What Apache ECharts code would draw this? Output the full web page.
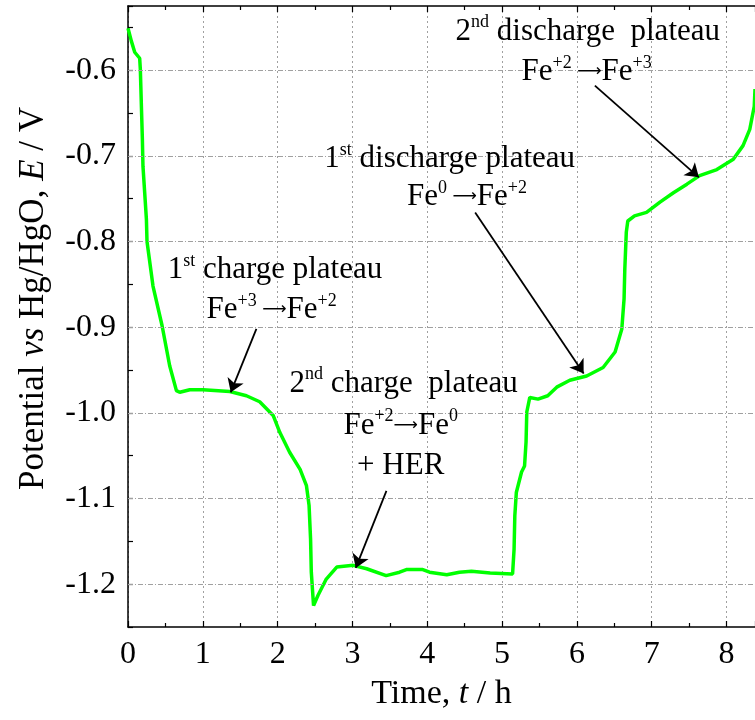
<!DOCTYPE html>
<html>
<head>
<meta charset="utf-8">
<title>Fe electrode charge / discharge</title>
<script src="https://cdn.jsdelivr.net/npm/echarts@6.0.0/dist/echarts.min.js"></script>
<style>
  html, body { margin: 0; padding: 0; background: #fff; }
  #main { width: 755px; height: 720px; }
</style>
</head>
<body>
<div id="main"></div>
<script>
// time (h) and potential (V vs Hg/HgO)
const timeH = [0, 0.045, 0.09, 0.156, 0.165, 0.179, 0.192, 0.2, 0.223, 0.246,
  0.254, 0.334, 0.455, 0.557, 0.647, 0.691, 0.825, 1.003, 1.36, 1.583,
  1.76, 1.94, 2.03, 2.16, 2.30, 2.385, 2.42, 2.44, 2.45, 2.48,
  2.54, 2.65, 2.79, 3.01, 3.19, 3.45, 3.63, 3.72, 3.94, 4.03,
  4.26, 4.43, 4.59, 4.84, 5.14, 5.16, 5.17, 5.19, 5.26, 5.30,
  5.32, 5.33, 5.37, 5.48, 5.61, 5.73, 5.905, 6.13, 6.35, 6.51,
  6.60, 6.63, 6.64, 6.66, 6.68, 6.77, 6.93, 7.11, 7.29, 7.47,
  7.64, 7.87, 8.09, 8.22, 8.31, 8.37, 8.38];
const potentialV = [-0.551, -0.566, -0.579, -0.586, -0.599, -0.642, -0.680, -0.712, -0.743, -0.774,
  -0.800, -0.852, -0.898, -0.945, -0.974, -0.976, -0.973, -0.973, -0.975, -0.980,
  -0.987, -1.003, -1.023, -1.046, -1.066, -1.085, -1.108, -1.147, -1.186, -1.225,
  -1.213, -1.194, -1.180, -1.178, -1.182, -1.190, -1.186, -1.183, -1.183, -1.186,
  -1.189, -1.186, -1.185, -1.187, -1.188, -1.159, -1.120, -1.093, -1.069, -1.062,
  -1.034, -0.999, -0.982, -0.984, -0.980, -0.970, -0.962, -0.957, -0.947, -0.929,
  -0.902, -0.867, -0.832, -0.789, -0.776, -0.770, -0.766, -0.754, -0.743, -0.733,
  -0.723, -0.716, -0.704, -0.688, -0.669, -0.642, -0.622];

// major y ticks (labelled, with grid lines)
const yMajorTicks = [-1.2, -1.1, -1.0, -0.9, -0.8, -0.7, -0.6];

// annotation texts, anchored in data units [t, E]
const noteTexts = [
  '{n|1}{s|st}{n| charge plateau}',
  '{n|Fe}{s|+3}{a| ⟶}{n|Fe}{s|+2}',
  '{n|2}{s|nd}{n| charge  plateau}',
  '{n|Fe}{s|+2}{a|⟶}{n|Fe}{s|0}',
  '{n|+ HER}',
  '{n|1}{s|st}{n| discharge plateau}',
  '{n|Fe}{s|0}{a| ⟶}{n|Fe}{s|+2}',
  '{n|2}{s|nd}{n| discharge  plateau}',
  '{n|Fe}{s|+2}{a| ⟶}{n|Fe}{s|+3}'
];
const noteAt = [[1.964, -0.833], [1.92, -0.880], [3.685, -0.966], [3.645, -1.015], [3.645, -1.062],
  [4.30, -0.704], [4.53, -0.748], [6.145, -0.555], [6.13, -0.602]];

// arrows: from [t, E] to [t, E]
const arrowFrom = [[1.716, -0.902], [3.454, -1.091], [4.64, -0.766], [6.24, -0.618]];
const arrowTo = [[1.373, -0.976], [3.044, -1.181], [6.09, -0.954], [7.63, -0.725]];

const FONT = '"Liberation Serif", "Times New Roman", serif';
const richStyle = {
  n: { fontFamily: FONT, fontSize: 31, lineHeight: 36, color: '#000' },
  s: { fontFamily: FONT, fontSize: 18, lineHeight: 20, verticalAlign: 'top', color: '#000' },
  a: { fontFamily: '"DejaVu Sans", sans-serif', fontSize: 17, lineHeight: 36, color: '#000' }
};

const chart = echarts.init(document.getElementById('main'));

const gridLine = { color: '#a0a0a0', width: 1 };

const option = {
  animation: false,
  backgroundColor: '#fff',
  grid: { left: 128, right: 0, top: 6, bottom: 93, containLabel: false, outerBoundsMode: 'none' },
  xAxis: [
    {
      type: 'value', position: 'bottom',
      min: 0, max: 8.38, interval: 1,
      axisLine: { show: true, onZero: false, lineStyle: { color: '#000', width: 1.5 } },
      axisTick: { show: true, inside: true, length: 6, lineStyle: { color: '#000', width: 1.2 } },
      minorTick: { show: true, splitNumber: 2, length: 4, lineStyle: { color: '#000', width: 1.2 } },
      axisLabel: {
        margin: 12, color: '#000', fontFamily: FONT, fontSize: 32, showMaxLabel: false,
        formatter: v => Number.isInteger(v) ? String(v) : ''
      },
      splitLine: { show: true, lineStyle: Object.assign({ type: [2, 3] }, gridLine) },
      name: 'Time, {i|t} / h',
      nameLocation: 'middle', nameGap: 50,
      nameTextStyle: {
        fontFamily: FONT, fontSize: 34, color: '#000',
        rich: { i: { fontFamily: FONT, fontSize: 34, fontStyle: 'italic', color: '#000' } }
      }
    },
    {
      type: 'value', position: 'top',
      min: 0, max: 8.38, interval: 1,
      axisLine: { show: true, onZero: false, lineStyle: { color: '#000', width: 1.5 } },
      axisTick: { show: true, inside: true, length: 6, lineStyle: { color: '#000', width: 1.2 } },
      minorTick: { show: true, splitNumber: 2, length: 4, lineStyle: { color: '#000', width: 1.2 } },
      axisLabel: { show: false },
      splitLine: { show: false }
    }
  ],
  yAxis: {
    type: 'value',
    min: -1.25, max: -0.525, interval: 0.05,
    axisLine: { show: true, onZero: false, lineStyle: { color: '#000', width: 1.5 } },
    axisTick: { show: true, inside: true, length: 5, lineStyle: { color: '#000', width: 1.2 } },
    axisLabel: {
      margin: 12, color: '#000', fontFamily: FONT, fontSize: 32,
      formatter: v => Math.abs(Math.round(v * 10) - v * 10) < 1e-6 ? v.toFixed(1) : ''
    },
    splitLine: { show: false },
    name: 'Potential {i|vs} Hg/HgO, {i|E} / V',
    nameLocation: 'middle', nameGap: 77, nameRotate: 90,
    nameTextStyle: {
      fontFamily: FONT, fontSize: 35, color: '#000', padding: [0, 0, 0, 36],
      rich: { i: { fontFamily: FONT, fontSize: 35, fontStyle: 'italic', color: '#000' } }
    }
  },
  series: [
    {
      // horizontal dash-dot grid lines at the labelled ticks
      name: 'grid', type: 'line', data: [], z: 1, silent: true,
      markLine: {
        silent: true, symbol: 'none', label: { show: false },
        lineStyle: Object.assign({ type: [5, 2, 1, 2] }, gridLine),
        data: yMajorTicks.map(v => ({ yAxis: v }))
      }
    },
    {
      name: 'E', type: 'line', z: 3,
      data: timeH.map((t, i) => [t, potentialV[i]]),
      showSymbol: false, symbol: 'none', smooth: false,
      lineStyle: { color: '#00ff00', width: 3.5 },
      markLine: {
        silent: true, symbol: ['none', 'arrow'], symbolSize: 13,
        label: { show: false },
        lineStyle: { color: '#000', width: 1.8, type: 'solid' },
        data: arrowFrom.map((p, i) => [{ coord: p }, { coord: arrowTo[i] }])
      },
      markPoint: {
        silent: true, symbol: 'circle', symbolSize: 1,
        itemStyle: { color: 'rgba(0,0,0,0)' },
        data: noteTexts.map((txt, i) => ({
          coord: noteAt[i],
          label: {
            show: true, position: 'inside', align: 'center', verticalAlign: 'middle',
            formatter: txt, rich: richStyle
          }
        }))
      }
    }
  ]
};

chart.setOption(option);
</script>
</body>
</html>
